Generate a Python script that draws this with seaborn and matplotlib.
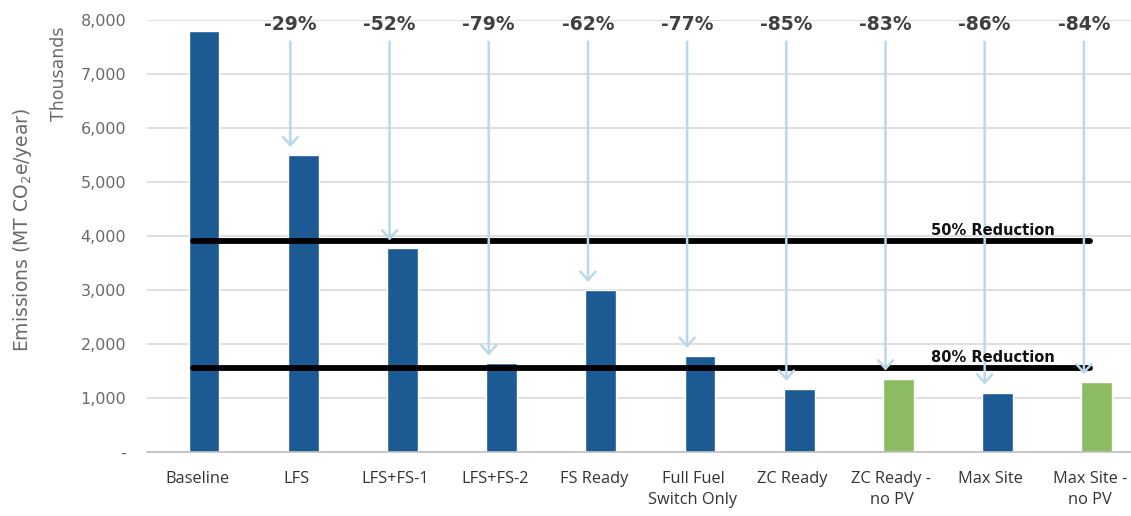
import matplotlib
matplotlib.use("Agg")
import matplotlib.pyplot as plt
import matplotlib.transforms as mtransforms
import seaborn as sns
import pandas as pd

categories = ["Baseline", "LFS", "LFS+FS-1", "LFS+FS-2", "FS Ready",
              "Full Fuel\nSwitch Only", "ZC Ready", "ZC Ready -\nno PV",
              "Max Site", "Max Site -\nno PV"]
emissions = [7800, 5500, 3770, 1640, 3000, 1780, 1170, 1360, 1100, 1290]
groups = ["PV", "PV", "PV", "PV", "PV", "PV", "PV", "no PV", "PV", "no PV"]
reduction_labels = ["", "-29%", "-52%", "-79%", "-62%", "-77%", "-85%",
                    "-83%", "-86%", "-84%"]
targets = [3900, 1560]
target_labels = ["50% Reduction", "80% Reduction"]
yticks = [0, 1000, 2000, 3000, 4000, 5000, 6000, 7000, 8000]
ytick_labels = ["-", "1,000", "2,000", "3,000", "4,000", "5,000", "6,000",
                "7,000", "8,000"]

BLUE = "#1B5A93"
GREEN = "#8DBB62"
ARROW = "#B9D8EA"

df = pd.DataFrame({"cat": categories, "val": emissions, "grp": groups})

sns.set_theme(style="white")
plt.rcParams["font.family"] = ["DejaVu Sans"]

fig = plt.figure(figsize=(11.31, 5.16), dpi=100)
ax = fig.add_axes([0.130, 0.124, 0.870, 0.837])

sns.barplot(data=df, x="cat", y="val", hue="grp",
            palette={"PV": BLUE, "no PV": GREEN}, dodge=False,
            width=0.31, legend=False, ax=ax, zorder=2, saturation=1)

ax.set_ylim(0, 8000)
ax.set_xlim(-0.575, 9.345)
ax.set_yticks(yticks)
ax.set_yticklabels(ytick_labels, color="#6A6A6A", fontsize=11.5)
ax.tick_params(axis="y", length=0, pad=15)
ax.tick_params(axis="x", length=0, pad=14)
ax.set_xticks(range(len(categories)))
ax.set_xticklabels(categories, color="#333333", fontsize=11.8,
                   family="Open Sans", linespacing=1.4)
shift = mtransforms.ScaledTranslation(-7 / 100, 0, fig.dpi_scale_trans)
for lbl in ax.get_xticklabels():
    lbl.set_transform(lbl.get_transform() + shift)
ax.yaxis.grid(True, color="#D9D9D9", linewidth=1.2, zorder=0)
ax.set_axisbelow(True)
for s in ["top", "right", "left"]:
    ax.spines[s].set_visible(False)
ax.spines["bottom"].set_color("#BFBFBF")
ax.spines["bottom"].set_linewidth(1.2)
ax.set_xlabel("")
ax.set_ylabel("")

# target lines
for t, lab in zip(targets, target_labels):
    ax.plot([-0.11, 8.93], [t, t], color="black", linewidth=4.2,
            solid_capstyle="round", zorder=3)
    ax.text(7.95, t + 60, lab, ha="center", va="bottom", fontsize=10.5,
            fontweight="bold", color="#111111", zorder=6)

# arrows and reduction labels
off = -0.13
for i, (v, lab) in enumerate(zip(emissions, reduction_labels)):
    if not lab:
        continue
    x = i + off
    ax.annotate("", xy=(x, v + 150), xytext=(x, 7600),
                arrowprops=dict(arrowstyle="->,head_length=0.5,head_width=0.45",
                                color=ARROW, linewidth=1.8,
                                shrinkA=0, shrinkB=0),
                zorder=4)
    ax.text(x, 7920, lab, ha="center", va="center", fontsize=13.5,
            fontweight="bold", color="#404040", zorder=6)

fig.text(0.020, 0.555, "Emissions (MT CO$_2$e/year)", rotation=90,
         ha="center", va="center", fontsize=13.5, color="#6A6A6A")
fig.text(0.052, 0.857, "Thousands", rotation=90, ha="center", va="center",
         fontsize=12.5, color="#6A6A6A")

fig.savefig("out.png", dpi=100)
